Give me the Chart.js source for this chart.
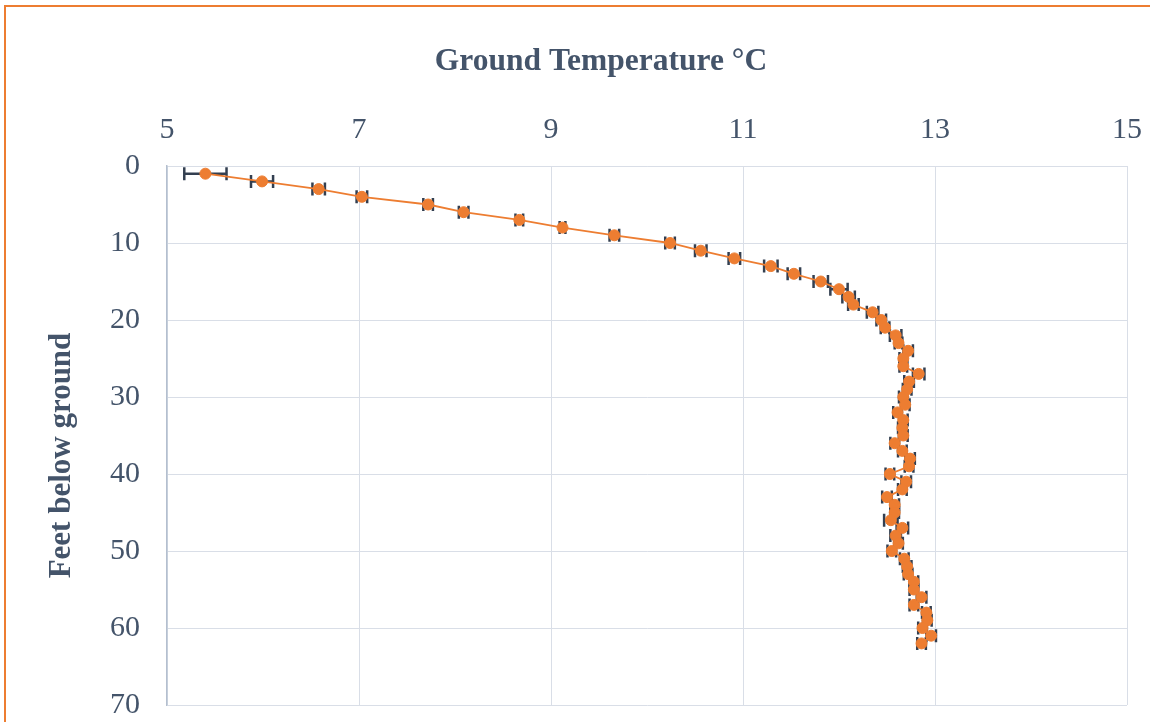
<!DOCTYPE html>
<html>
<head>
<meta charset="utf-8">
<script src="https://cdn.jsdelivr.net/npm/chart.js@4"></script>
<style>
  html, body { margin: 0; padding: 0; background: #ffffff; overflow: hidden; }
  #wrap { position: relative; width: 1150px; height: 722px; overflow: hidden; }
  #frame { position: absolute; left: 4px; top: 5px; width: 1200px; height: 800px;
           border-left: 2px solid #ED7D31; border-top: 2px solid #ED7D31; pointer-events: none; }
  canvas { position: absolute; left: 0; top: 0; }
</style>
</head>
<body>
<div id="wrap">
  <canvas id="c" width="1150" height="722"></canvas>
  <div id="frame"></div>
</div>
<script>
// ---- Data ----
const depthFeet = [1,2,3,4,5,6,7,8,9,10,11,12,13,14,15,16,17,18,19,20,21,22,23,24,25,26,27,28,29,30,
  31,32,33,34,35,36,37,38,39,40,41,42,43,44,45,46,47,48,49,50,51,52,53,54,55,56,57,58,59,60,61,62];
const temperatureC = [5.40,5.99,6.58,7.03,7.72,8.09,8.67,9.12,9.66,10.24,10.56,10.91,11.29,11.53,11.81,
  12.00,12.10,12.15,12.35,12.44,12.48,12.59,12.62,12.72,12.67,12.67,12.83,12.73,12.71,12.67,
  12.69,12.61,12.67,12.66,12.67,12.58,12.66,12.74,12.73,12.53,12.70,12.66,12.50,12.58,12.58,
  12.54,12.66,12.59,12.62,12.55,12.68,12.71,12.72,12.78,12.78,12.86,12.78,12.91,12.92,12.87,12.96,12.86];
const temperatureErr = [0.22,0.115,0.065,0.055,0.05,0.05,0.04,0.03,0.05,0.05,0.06,0.06,0.07,0.065,0.075,
  0.09,0.065,0.055,0.06,0.05,0.045,0.06,0.04,0.05,0.04,0.04,0.06,0.05,0.045,0.045,
  0.045,0.045,0.045,0.045,0.045,0.045,0.045,0.05,0.045,0.045,0.05,0.045,0.05,0.045,0.045,
  0.07,0.06,0.055,0.045,0.045,0.045,0.045,0.045,0.045,0.045,0.05,0.045,0.045,0.045,0.045,0.05,0.045];
const xTicks = [5,7,9,11,13,15];
const yTicks = [0,10,20,30,40,50,60,70];
const xTitle = 'Ground Temperature °C';
const yTitle = 'Feet below ground';

// ---- Styles ----
const TEXT = '#44546A';
const GRID = '#D9DEE7';
const AXIS = '#B4BFCF';
const ORANGE = '#ED7D31';
const ERR = '#333F50';
const FONT = '"Liberation Serif", "Times New Roman", serif';

const points = depthFeet.map((d, i) => ({ x: temperatureC[i], y: d }));

const errorBars = {
  id: 'errorBars',
  beforeDatasetsDraw(chart) {
    const ctx = chart.ctx;
    const xs = chart.scales.x, ys = chart.scales.y;
    ctx.save();
    ctx.strokeStyle = ERR;
    ctx.lineWidth = 2.5;
    const cap = 6.5;
    depthFeet.forEach((d, i) => {
      const y = ys.getPixelForValue(d);
      const x1 = xs.getPixelForValue(temperatureC[i] - temperatureErr[i]);
      const x2 = xs.getPixelForValue(temperatureC[i] + temperatureErr[i]);
      ctx.beginPath();
      ctx.moveTo(x1, y); ctx.lineTo(x2, y);
      ctx.moveTo(x1, y - cap); ctx.lineTo(x1, y + cap);
      ctx.moveTo(x2, y - cap); ctx.lineTo(x2, y + cap);
      ctx.stroke();
    });
    ctx.restore();
  }
};

// Axis titles, placed as in the reference (slightly off-centre like the Excel original)
const axisTitles = {
  id: 'axisTitles',
  afterDraw(chart) {
    const ctx = chart.ctx, a = chart.chartArea;
    ctx.save();
    ctx.fillStyle = TEXT;
    ctx.textAlign = 'center';
    ctx.textBaseline = 'middle';
    ctx.font = 'bold 31.5px ' + FONT;
    ctx.fillText(xTitle, (a.left + a.right) / 2 - 46, 62);
    ctx.translate(62, (a.top + a.bottom) / 2 + 20);
    ctx.rotate(-Math.PI / 2);
    ctx.font = 'bold 31px ' + FONT;
    ctx.fillText(yTitle, 0, 0);
    ctx.restore();
  }
};

new Chart(document.getElementById('c'), {
  type: 'scatter',
  data: {
    datasets: [{
      data: points,
      showLine: true,
      borderColor: ORANGE,
      borderWidth: 1.8,
      backgroundColor: ORANGE,
      pointBackgroundColor: ORANGE,
      pointBorderColor: ORANGE,
      pointBorderWidth: 1,
      pointRadius: 5.5,
      tension: 0
    }]
  },
  options: {
    responsive: false,
    animation: false,
    layout: { padding: { left: 0, right: 23, top: 0, bottom: 17 } },
    plugins: { legend: { display: false }, tooltip: { enabled: false } },
    scales: {
      x: {
        type: 'linear',
        position: 'top',
        min: 5, max: 15,
        afterBuildTicks(s) { s.ticks = xTicks.map(v => ({ value: v })); },
        afterFit(s) { s.height = 166; s.paddingLeft = 0; s.paddingRight = 0; },
        grid: { color: GRID, lineWidth: 1, drawTicks: false },
        border: { color: GRID, width: 1 },
        ticks: { color: TEXT, padding: 21, font: { family: FONT, size: 30, lineHeight: 1 } },
        title: { display: false }
      },
      y: {
        type: 'linear',
        reverse: true,
        min: 0, max: 70,
        afterBuildTicks(s) { s.ticks = yTicks.map(v => ({ value: v })); },
        afterFit(s) { s.width = 167; s.paddingTop = 0; s.paddingBottom = 0; },
        grid: { color: GRID, lineWidth: 1, drawTicks: false },
        border: { color: AXIS, width: 1.5 },
        ticks: { color: TEXT, padding: 27, font: { family: FONT, size: 30, lineHeight: 1 } },
        title: { display: false }
      }
    }
  },
  plugins: [errorBars, axisTitles]
});
</script>
</body>
</html>
